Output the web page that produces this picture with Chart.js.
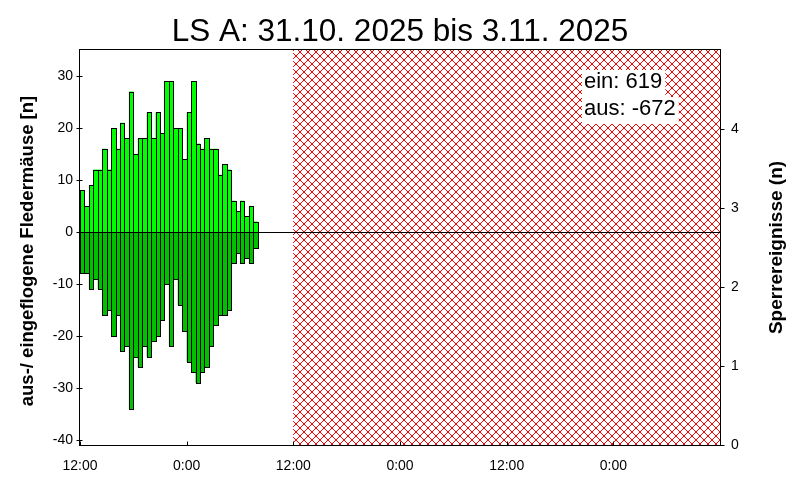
<!DOCTYPE html>
<html><head><meta charset="utf-8">
<script src="https://cdn.jsdelivr.net/npm/chart.js@4.4.1/dist/chart.umd.min.js"></script>
<style>html,body{margin:0;padding:0;background:#fff}#wrap{width:800px;height:500px}</style>
</head><body><div id="wrap"><canvas id="c" width="800" height="500"></canvas></div>
<script>
// ---------- data ----------
const titleText = 'LS A: 31.10. 2025 bis 3.11. 2025';
const leftAxisTitle = 'aus-/ eingeflogene Fledermäuse [n]';
const rightAxisTitle = 'Sperrereignisse (n)';
const binStart = ['12:00','12:30','13:00','13:30','14:00','14:30','15:00','15:30','16:00','16:30',
  '17:00','17:30','18:00','18:30','19:00','19:30','20:00','20:30','21:00','21:30',
  '22:00','22:30','23:00','23:30','0:00','0:30','1:00','1:30','2:00','2:30',
  '3:00','3:30','4:00','4:30','5:00','5:30','6:00','6:30','7:00','7:30'];
const einValues = [8,5,9,12,12,16,12,20,16,21,18,27,15,18,18,23,18,23,19,29,
  29,20,20,14,23,29,17,16,18,16,16,11,13,12,6,4,6,3,5,2];
const ausValues = [-8,-8,-11,-9,-11,-16,-15,-20,-16,-23,-22,-34,-24,-26,-22,-24,-21,-20,-17,-10,
  -22,-9,-14,-19,-25,-27,-29,-27,-26,-22,-18,-16,-16,-15,-6,-4,-6,-5,-6,-3];
const binMinutes = 30;
const xTickHours = [0,12,24,36,48,60];
const xTickLabels = ['12:00','0:00','12:00','0:00','12:00','0:00'];
const xRangeHours = [0,72];
const yLeftTicks = [-40,-30,-20,-10,0,10,20,30];
const yLeftRange = [-41,35];
const yRightTicks = [0,1,2,3,4];
const yRightRange = [0,5];
const noDataStartHour = 24, noDataEndHour = 72;

// ---------- helpers ----------
function hourOffset(t){ const [h,m]=t.split(':').map(Number); let v=h+m/60; if(v<12) v+=24; return v-12; }
const centers = binStart.map(t => hourOffset(t) + binMinutes/120);
const sum = a => a.reduce((s,v)=>s+v,0);
const summaryLines = ['ein: ' + sum(einValues), 'aus: ' + sum(ausValues)];

Chart.defaults.font.family = "'Liberation Sans', Arial, sans-serif";
Chart.defaults.color = '#000';

const hatch = (() => {
  const c = document.createElement('canvas'); c.width = 8; c.height = 8;
  const g = c.getContext('2d'); g.fillStyle = '#ff0000';
  for (let i=0;i<8;i++){ g.fillRect(i,i,1,1); g.fillRect(7-i,i,1,1); }
  return document.getElementById('c').getContext('2d').createPattern(c,'repeat');
})();

const deco = {
  id:'deco',
  beforeDatasetsDraw(chart){
    const {ctx, chartArea:a, scales:{x}} = chart;
    const x0 = Math.round(x.getPixelForValue(noDataStartHour)), x1 = Math.round(x.getPixelForValue(noDataEndHour));
    ctx.save(); ctx.fillStyle = hatch; ctx.fillRect(x0, a.top, x1-x0, a.bottom-a.top); ctx.restore();
  },
  afterDatasetsDraw(chart){
    const {ctx, chartArea:a, scales:{x,y,y2}} = chart;
    ctx.save();
    // crisp bar outlines (from the library's bar elements)
    ctx.strokeStyle = '#000'; ctx.lineWidth = 1;
    chart.data.datasets.forEach((ds, di) => {
      chart.getDatasetMeta(di).data.forEach(el => {
        const p = el.getProps(['x','y','base','width'], true);
        const l = Math.round(p.x - p.width/2), r = Math.round(p.x + p.width/2);
        const t = Math.round(Math.min(p.y, p.base)), b = Math.round(Math.max(p.y, p.base));
        ctx.fillStyle = ds.backgroundColor;
        ctx.fillRect(l, t, r-l, b-t);
        ctx.strokeRect(l+0.5, t+0.5, r-l, b-t);
      });
    });
    const yz = Math.round(y.getPixelForValue(0)) + 0.5;
    ctx.beginPath(); ctx.moveTo(a.left, yz); ctx.lineTo(a.right, yz); ctx.stroke();
    // frame
    const L = Math.round(a.left)-0.5, R = Math.round(a.right)+0.5, T = Math.round(a.top)-0.5, B = Math.round(a.bottom)+0.5;
    ctx.strokeRect(L, T, R-L, B-T);
    // tick marks
    ctx.beginPath();
    yLeftTicks.forEach(v => { const p = Math.round(y.getPixelForValue(v))+0.5; ctx.moveTo(L-3,p); ctx.lineTo(L+3,p); });
    yRightTicks.forEach(v => { const p = Math.round(y2.getPixelForValue(v))+0.5; ctx.moveTo(R,p); ctx.lineTo(R+4,p); });
    xTickHours.forEach(v => { const p = Math.round(x.getPixelForValue(v))+0.5; ctx.moveTo(p,B); ctx.lineTo(p,B-4); });
    ctx.stroke();
    // axis titles
    ctx.fillStyle = '#000';
    ctx.font = "bold 18.5px 'Liberation Sans', Arial, sans-serif";
    ctx.textAlign = 'center'; ctx.textBaseline = 'middle';
    ctx.save(); ctx.translate(28, 251); ctx.rotate(-Math.PI/2); ctx.fillText(leftAxisTitle,0,0); ctx.restore();
    ctx.font = "bold 19px 'Liberation Sans', Arial, sans-serif";
    ctx.save(); ctx.translate(777, 247.5); ctx.rotate(-Math.PI/2); ctx.fillText(rightAxisTitle,0,0); ctx.restore();
    // summary box
    ctx.font = "22px 'Liberation Sans', Arial, sans-serif";
    ctx.textAlign = 'left'; ctx.textBaseline = 'alphabetic';
    const tx = 584, base = [88, 115];
    summaryLines.forEach((s,i) => {
      const w = ctx.measureText(s).width;
      ctx.fillStyle = '#fff'; ctx.fillRect(tx-2, base[i]-18, w+5, 27);
    });
    summaryLines.forEach((s,i) => { ctx.fillStyle = '#000'; ctx.fillText(s, tx, base[i]); });
    ctx.restore();
  }
};

const barStyle = {borderWidth:0, borderSkipped:false, inflateAmount:0,
  grouped:false, barPercentage:1, categoryPercentage:1, yAxisID:'y'};

new Chart(document.getElementById('c'), {
  type:'bar',
  data:{
    datasets:[
      Object.assign({label:'aus', data: centers.map((c,i)=>({x:c, y:ausValues[i]})), backgroundColor:'#00c000'}, barStyle),
      Object.assign({label:'ein', data: centers.map((c,i)=>({x:c, y:einValues[i]})), backgroundColor:'#00ff00'}, barStyle)
    ]
  },
  options:{
    responsive:false, animation:false, devicePixelRatio:1,
    layout:{padding:0},
    plugins:{
      legend:{display:false}, tooltip:{enabled:false},
      title:{display:true, text:titleText, color:'#000', font:{size:31.5, weight:'normal', lineHeight:1}, padding:{top:17, bottom:1.5}}
    },
    scales:{
      x:{type:'linear', min:xRangeHours[0], max:xRangeHours[1], offset:false,
         afterBuildTicks: s => { s.ticks = xTickHours.map(v=>({value:v})); },
         afterFit: s => { s.height = 55; },
         ticks:{autoSkip:false, maxRotation:0, padding:13, font:{size:14}, color:'#000',
                callback:(v,i)=>xTickLabels[i]},
         grid:{display:false, drawTicks:false}, border:{display:false}},
      y:{position:'left', min:yLeftRange[0], max:yLeftRange[1],
         afterBuildTicks: s => { s.ticks = yLeftTicks.map(v=>({value:v})); },
         afterFit: s => { s.width = 80; },
         ticks:{padding:7, font:{size:14}, color:'#000'},
         grid:{display:false, drawTicks:false}, border:{display:false}},
      y2:{position:'right', min:yRightRange[0], max:yRightRange[1],
         afterBuildTicks: s => { s.ticks = yRightTicks.map(v=>({value:v})); },
         afterFit: s => { s.width = 80; },
         ticks:{padding:11, font:{size:14}, color:'#000'},
         grid:{display:false, drawTicks:false}, border:{display:false}}
    }
  },
  plugins:[deco]
});
</script></body></html>
